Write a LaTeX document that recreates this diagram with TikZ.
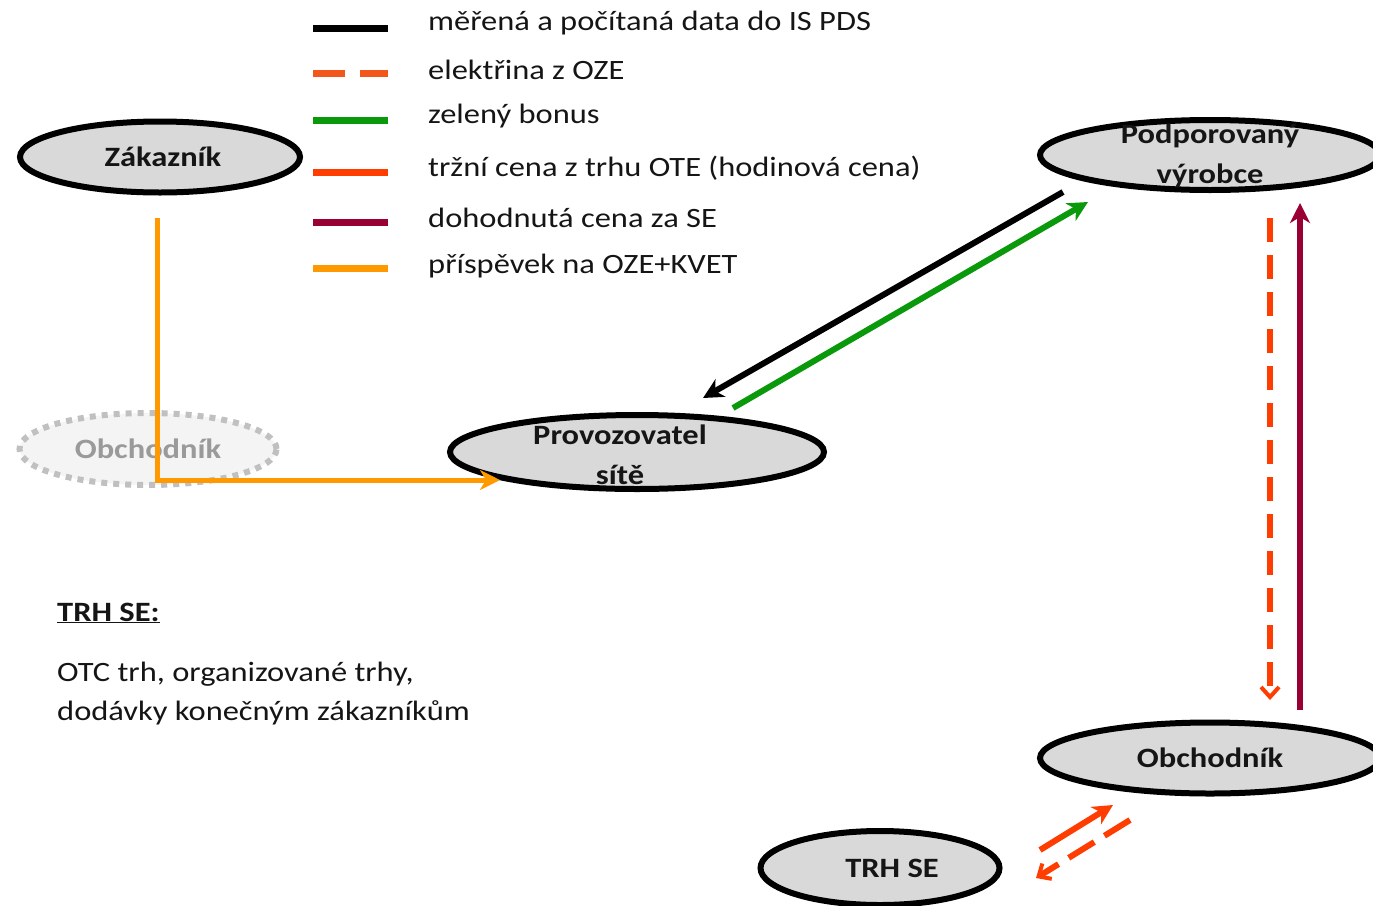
\documentclass[tikz,border=0pt]{standalone}
\usepackage{fontspec}
\setmainfont{Carlito}[FakeStretch=1.16]
\usetikzlibrary{arrows.meta,shapes.geometric}
\definecolor{nodefill}{HTML}{D9D9D9}
\definecolor{ghostfill}{HTML}{F4F4F4}
\definecolor{ghostline}{HTML}{C0C0C0}
\definecolor{ghosttext}{HTML}{9A9A9A}
\definecolor{cgreen}{HTML}{0A990A}
\definecolor{cred}{HTML}{FF3D00}
\definecolor{cdash}{HTML}{F2561A}
\definecolor{cmaroon}{HTML}{990033}
\definecolor{corange}{HTML}{FF9900}
\definecolor{ctext}{HTML}{151515}
\tikzset{
  ent/.style={ellipse, draw=black, line width=6pt, fill=nodefill, inner sep=0pt,
    font=\fontsize{28}{40}\selectfont\bfseries, text=ctext, align=center},
  enttext/.style={inner sep=0pt, font=\fontsize{28}{40}\selectfont\bfseries, text=ctext, align=center},
  ghost/.style={ellipse, draw=ghostline, line width=6pt, fill=ghostfill, inner sep=0pt,
    dash pattern=on 6pt off 6pt, font=\fontsize{28}{40}\selectfont\bfseries, text=ghosttext},
  legtext/.style={anchor=west, inner sep=0pt, font=\fontsize{28}{34}\selectfont, text=ctext},
  legline/.style={line width=7pt},
  conn/.style={line width=6pt, -{Stealth[length=20pt,width=20pt,inset=6pt]}},
  dconn/.style={line width=6pt, dash pattern=on 24pt off 13pt, -{Straight Barb[length=10pt,width=18pt,line width=4pt]}},
  body/.style={anchor=west, inner sep=0pt, font=\fontsize{28}{34}\selectfont, text=ctext}
}
\begin{document}
\begin{tikzpicture}[x=1pt,y=-1pt]
\useasboundingbox (0,0) rectangle (1373,905);
\clip (0,0) rectangle (1373,905);

% legend
\foreach \n/\y in {a/28,b/73,c/120,d/172,e/222,f/268}{
  \coordinate (l\n1) at (313,\y);
  \coordinate (l\n2) at (388,\y);
}
\draw[legline, black] (la1) -- (la2);
\draw[legline, cdash, dash pattern=on 32pt off 15pt] (lb1) -- (lb2);
\draw[legline, cgreen] (lc1) -- (lc2);
\draw[legline, cred] (ld1) -- (ld2);
\draw[legline, cmaroon] (le1) -- (le2);
\draw[legline, corange] (lf1) -- (lf2);
\node[legtext] (ta) at (428,23) {měřená a počítaná data do IS PDS};
\node[legtext] (tb) at (428,70) {elektřina z OZE};
\node[legtext] (tc) at (428,116) {zelený bonus};
\node[legtext] (td) at (428,168) {tržní cena z trhu OTE (hodinová cena)};
\node[legtext] (te) at (428,218) {dohodnutá cena za SE};
\node[legtext] (tf) at (428,266) {příspěvek na OZE+KVET};

% entities
\node[ent, minimum width=280pt, minimum height=71pt] (zak) at (160,157) {\hspace*{6pt}Zákazník};
\node[ghost, minimum width=257pt, minimum height=72pt] (gobch) at (148,449) {Obchodník};
\node[ent, minimum width=374pt, minimum height=74pt] (prov) at (637,452) {};
\node[enttext] (provt) at (620,455) {Provozovatel\\sítě};
\node[ent, minimum width=340pt, minimum height=70pt] (podp) at (1210,155) {};
\node[enttext] (podpt) at (1210,156) {Podporovaný\\výrobce};
\node[ent, minimum width=340pt, minimum height=71pt] (obch) at (1210,758) {Obchodník};
\node[ent, minimum width=239pt, minimum height=74pt] (trh) at (880,868) {\hspace*{24pt}TRH SE};

% text block
\node[body] (trhh) at (57,613) {\bfseries\underline{TRH SE:}};
\node[body] (trh1) at (57,674) {OTC trh, organizované trhy,};
\node[body] (trh2) at (57,713) {dodávky konečným zákazníkům};

% connectors
\coordinate (k1) at (157,218);
\coordinate (k2) at (157,480);
\coordinate (k3) at (500,480);
\draw[line width=5pt, corange, -{Stealth[length=20pt,width=20pt,inset=6pt]}] (k1) -- (k2) -- (k3);

\coordinate (b1) at (1063,192);
\coordinate (b2) at (703,398);
\draw[conn, black] (b1) -- (b2);
\coordinate (g1) at (733,408);
\coordinate (g2) at (1088,202);
\draw[conn, cgreen] (g1) -- (g2);

\coordinate (d1) at (1270,218);
\coordinate (d2) at (1270,700);
\draw[dconn, cred] (d1) -- (d2);
\coordinate (m1) at (1300,710);
\coordinate (m2) at (1300,203);
\draw[conn, cmaroon] (m1) -- (m2);

\coordinate (r1) at (1040,850);
\coordinate (r2) at (1113,805);
\draw[conn, cred] (r1) -- (r2);
\coordinate (s1) at (1130,820);
\coordinate (s2) at (1036,878);
\draw[dconn, cred, dash pattern=on 30pt off 12pt] (s1) -- (s2);
\end{tikzpicture}
\end{document}
